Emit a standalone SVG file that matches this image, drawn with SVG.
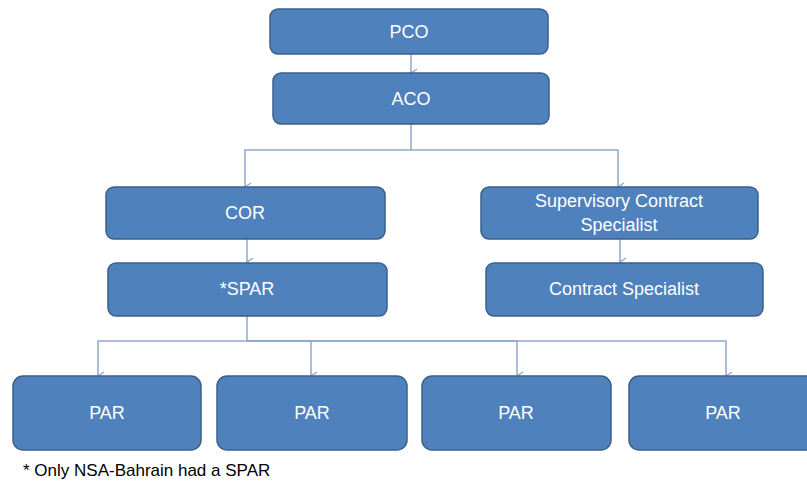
<svg xmlns="http://www.w3.org/2000/svg" width="807" height="485" viewBox="0 0 807 485">
<defs>
<marker id="arr" markerWidth="10" markerHeight="10" refX="5" refY="8" orient="auto-start-reverse" markerUnits="userSpaceOnUse" viewBox="0 0 10 10">
<polyline points="1,2 5,8 9,2" fill="none" stroke="#8FA9CC" stroke-width="1.4"/>
</marker>
<style>
.box{fill:#4F81BD;stroke:#3B6089;stroke-width:1.5}
.lbl{font-family:"Liberation Sans",Arial,sans-serif;font-size:18px;fill:#FFFFFF;text-anchor:middle;dominant-baseline:central}
.con{fill:none;stroke:#8FA9CC;stroke-width:1.5}
.con.a{marker-end:url(#arr)}
.note{font-family:"Liberation Sans",Arial,sans-serif;font-size:17px;fill:#000000}
</style>
</defs>
<rect width="807" height="485" fill="#FFFFFF"/>
<g id="connectors">
<line class="con a" x1="411" y1="54" x2="411" y2="73"/>
<polyline class="con" points="411,124 411,150"/>
<polyline class="con a" points="411,150 245,150 245,187"/>
<polyline class="con a" points="411,150 618,150 618,187"/>
<line class="con a" x1="247" y1="239" x2="247" y2="262"/>
<line class="con a" x1="620" y1="239" x2="620" y2="262"/>
<polyline class="con" points="247,316 247,341"/>
<polyline class="con a" points="247,341 98,341 98,376"/>
<polyline class="con a" points="247,341 311,341 311,376"/>
<polyline class="con a" points="247,341 517,341 517,376"/>
<polyline class="con a" points="247,341 726,341 726,376"/>
</g>
<g id="pco"><rect class="box" x="270" y="9" width="278" height="45" rx="8"/><text class="lbl" x="409" y="32">PCO</text></g>
<g id="aco"><rect class="box" x="273" y="73" width="276" height="51" rx="8"/><text class="lbl" x="411" y="99">ACO</text></g>
<g id="cor"><rect class="box" x="106" y="187" width="279" height="52" rx="8"/><text class="lbl" x="245" y="213">COR</text></g>
<g id="scs"><rect class="box" x="481" y="187" width="277" height="52" rx="8"/><text class="lbl" x="619" y="201">Supervisory Contract</text><text class="lbl" x="619" y="225">Specialist</text></g>
<g id="spar"><rect class="box" x="108" y="263" width="279" height="53" rx="8"/><text class="lbl" x="247" y="289">*SPAR</text></g>
<g id="cs"><rect class="box" x="486" y="263" width="277" height="53" rx="8"/><text class="lbl" x="624" y="289">Contract Specialist</text></g>
<g id="par1"><rect class="box" x="13" y="376" width="188" height="74" rx="10"/><text class="lbl" x="107" y="413">PAR</text></g>
<g id="par2"><rect class="box" x="217" y="376" width="190" height="74" rx="10"/><text class="lbl" x="312" y="413">PAR</text></g>
<g id="par3"><rect class="box" x="422" y="376" width="189" height="74" rx="10"/><text class="lbl" x="516" y="413">PAR</text></g>
<g id="par4"><rect class="box" x="629" y="376" width="190" height="74" rx="10"/><text class="lbl" x="723" y="413">PAR</text></g>
<text class="note" x="23" y="476">* Only NSA-Bahrain had a SPAR</text>
</svg>
